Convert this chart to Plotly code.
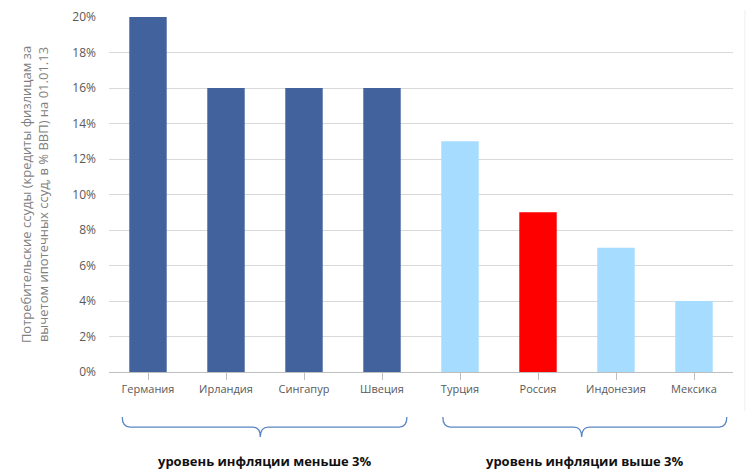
import plotly.graph_objects as go

countries = ["Германия", "Ирландия", "Сингапур", "Швеция",
             "Турция", "Россия", "Индонезия", "Мексика"]
loans_pct = [20, 16, 16, 16, 13, 9, 7, 4]
bar_colors = ["#41629c", "#41629c", "#41629c", "#41629c",
              "#a6dcff", "#ff0000", "#a6dcff", "#a6dcff"]
y_ticks = [0, 2, 4, 6, 8, 10, 12, 14, 16, 18, 20]
y_tick_text = [f"{v}%" for v in y_ticks]

group_labels = ["уровень инфляции меньше 3%", "уровень инфляции выше 3%"]
# brace extents in category units (left end, tip, right end)
brace_spans = [(-0.33, 1.44, 3.32), (3.78, 5.56, 7.42)]

y_title = ("Потребительские ссуды (кредиты физлицам за<br>"
           "вычетом ипотечных ссуд, в % ВВП) на 01.01.13")

fig = go.Figure(
    go.Bar(
        x=list(range(len(countries))),
        y=loans_pct,
        marker=dict(color=bar_colors, line=dict(width=0)),
        width=0.48,
    )
)


def brace_path(x0, xc, x1, y_top, y_mid, y_tip, d=0.1):
    return (
        f"M {x0},{y_top} Q {x0},{y_mid} {x0 + d},{y_mid} "
        f"L {xc - d},{y_mid} Q {xc},{y_mid} {xc},{y_tip} "
        f"Q {xc},{y_mid} {xc + d},{y_mid} "
        f"L {x1 - d},{y_mid} Q {x1},{y_mid} {x1},{y_top}"
    )


shapes = []
annotations = []
for label, (x0, xc, x1) in zip(group_labels, brace_spans):
    shapes.append(dict(
        type="path", xref="x", yref="paper",
        path=brace_path(x0, xc, x1, -0.127, -0.155, -0.183),
        line=dict(color="#5b86c4", width=1.3),
    ))
    annotations.append(dict(
        x=(x0 + x1) / 2, y=-0.251, xref="x", yref="paper",
        text=f"<b>{label}</b>", showarrow=False, yanchor="middle",
        font=dict(family="Open Sans", size=13, color="#111111"),
    ))

# faint border at the right edge of the original picture
shapes.append(dict(
    type="line", xref="paper", yref="paper", x0=1.019, x1=1.019,
    y0=1.02, y1=-0.11, line=dict(color="#eeeeee", width=1),
))

# the page has an 8px body margin, so the figure is shrunk to fit the window
fig.update_layout(
    width=748, height=463,
    margin=dict(l=101, r=23, t=9, b=99, autoexpand=False),
    paper_bgcolor="white", plot_bgcolor="white",
    showlegend=False,
    bargap=0.5,
    font=dict(family="Open Sans", color="#595959", size=11),
    shapes=shapes,
    annotations=annotations,
    xaxis=dict(
        tickmode="array",
        tickvals=list(range(len(countries))),
        ticktext=countries,
        range=[-0.5, len(countries) - 0.5],
        showline=True, linecolor="#bfbfbf", linewidth=1,
        ticks="outside", tickson="boundaries", ticklen=7,
        tickcolor="#bfbfbf",
        showgrid=False,
        tickfont=dict(size=11, color="#595959"),
    ),
    yaxis=dict(
        range=[0, 20],
        tickmode="array",
        tickvals=y_ticks,
        ticktext=y_tick_text,
        ticklabeloverflow="allow",
        showgrid=True, gridcolor="#d9d9d9", gridwidth=1,
        zeroline=False, showline=False,
        ticks="", ticklabelstandoff=12,
        tickfont=dict(size=12, color="#595959"),
        title=dict(text=y_title, standoff=20,
                   font=dict(size=13, color="#7f7f7f")),
    ),
)

fig.write_html("out.html")
